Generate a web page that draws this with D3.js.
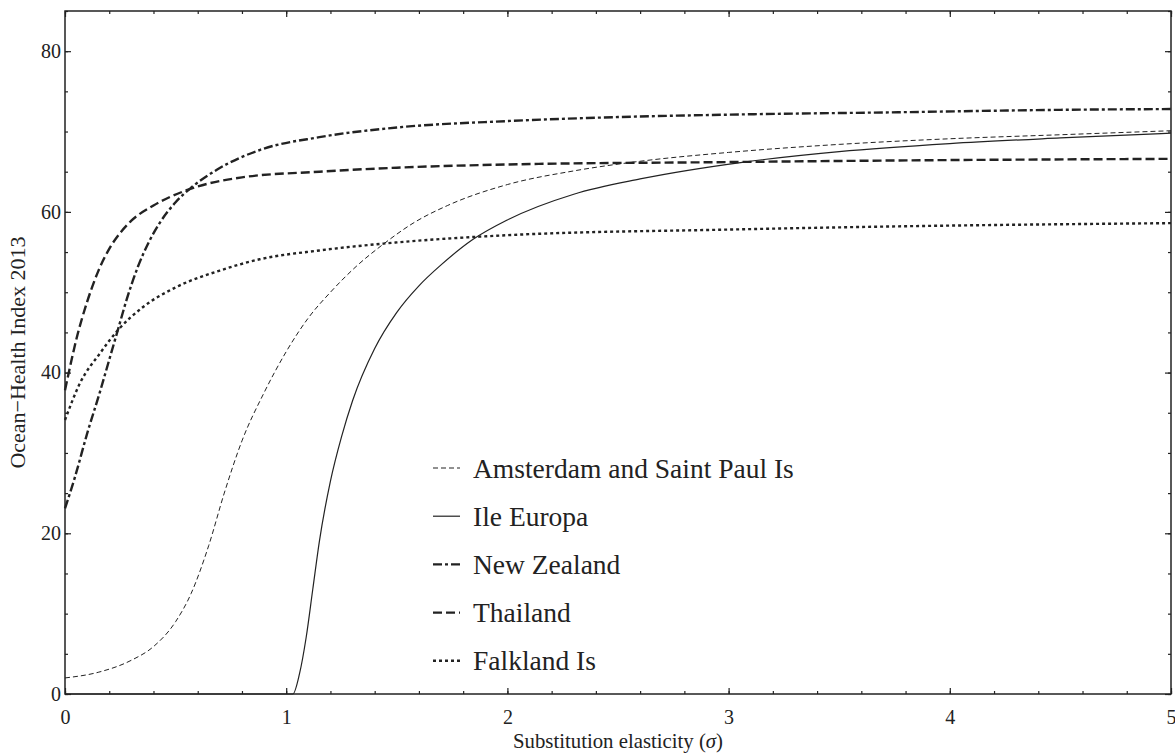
<!DOCTYPE html>
<html>
<head>
<meta charset="utf-8">
<script src="https://cdn.jsdelivr.net/npm/d3@7"></script>
<style>
  body { margin: 0; background: #fff; }
  text { font-family: "Liberation Serif", "DejaVu Serif", serif; fill: #222; }
</style>
</head>
<body>
<svg id="chart"></svg>
<script>
// values
var names = ["Amsterdam and Saint Paul Is", "Ile Europa", "New Zealand", "Thailand", "Falkland Is"];

var amsterdamX = [0, 0.15, 0.3, 0.4, 0.5, 0.57, 0.65, 0.72, 0.8, 0.9, 1.0, 1.1, 1.2, 1.32, 1.44, 1.58, 1.73, 2.0, 2.3, 2.6, 3.0, 3.5, 4.0, 4.5, 5.0];
var amsterdamY = [2.0, 2.7, 4.2, 5.9, 9.0, 12.5, 18.5, 25, 31.5, 37.5, 42.6, 46.8, 50, 53.3, 56.0, 58.7, 60.8, 63.4, 65.1, 66.3, 67.4, 68.4, 69.1, 69.6, 70.1];

var europaX = [0, 1.03, 1.06, 1.09, 1.12, 1.15, 1.2, 1.25, 1.3, 1.4, 1.5, 1.6, 1.7, 1.84, 2.0, 2.3, 2.6, 3.07, 3.5, 4.0, 4.5, 5.0];
var europaY = [0, 0, 2.5, 7, 13, 19, 26.5, 32, 36.5, 43, 47.5, 50.8, 53.4, 56.5, 59.0, 62.2, 64.1, 66.2, 67.5, 68.5, 69.2, 69.8];

var nzX = [0, 0.045, 0.1, 0.158, 0.2, 0.24, 0.28, 0.33, 0.38, 0.43, 0.5, 0.57, 0.69, 0.88, 1.15, 1.5, 2.0, 2.5, 3.0, 3.77, 4.5, 5.0];
var nzY = [23.1, 27.0, 32.4, 37.6, 41.6, 45.4, 49.2, 53.2, 56.3, 58.7, 61.2, 63.0, 65.3, 67.7, 69.3, 70.5, 71.3, 71.8, 72.1, 72.4, 72.7, 72.8];

var thaiX = [0, 0.025, 0.05, 0.1, 0.15, 0.2, 0.25, 0.3, 0.4, 0.55, 0.8, 1.15, 1.5, 2.0, 3.0, 3.77, 5.0];
var thaiY = [37.8, 41.0, 44.0, 48.8, 52.6, 55.4, 57.4, 58.9, 60.8, 62.7, 64.3, 65.0, 65.5, 65.9, 66.2, 66.4, 66.6];

var falkX = [0, 0.068, 0.158, 0.24, 0.35, 0.5, 0.7, 0.88, 1.15, 1.5, 2.0, 3.0, 3.77, 5.0];
var falkY = [34.1, 38.7, 42.4, 45.3, 48.1, 50.6, 52.7, 54.1, 55.2, 56.2, 57.1, 57.8, 58.2, 58.6];

var xTicks = [0, 1, 2, 3, 4, 5];
var yTicks = [0, 20, 40, 60, 80];

var seriesX = [amsterdamX, europaX, nzX, thaiX, falkX];
var seriesY = [amsterdamY, europaY, nzY, thaiY, falkY];

// line styles: [width, dasharray]
var styles = [
    [1, "5,3"],
    [1.2, null],
    [2.4, "9,3,3,3"],
    [2.4, "9,4"],
    [2.4, "3,3"]
];

var width = 1175, height = 754;
var margin = {top: 11, right: 4, bottom: 60, left: 65};

var svg = d3.select("#chart")
    .attr("width", width)
    .attr("height", height);

var x = d3.scaleLinear().domain([0, 5]).range([margin.left, width - margin.right]);
var y = d3.scaleLinear().domain([0, 85]).range([height - margin.bottom, margin.top]);

var minorX = d3.range(0, 5.001, 0.2);
var minorY = d3.range(0, 85.001, 5);

// ticks point inward on all four sides
svg.append("g")
    .attr("transform", `translate(0,${y(0)})`)
    .call(d3.axisBottom(x).tickValues(minorX).tickSize(-3).tickFormat(""))
    .call(g => g.select(".domain").remove());
svg.append("g")
    .attr("transform", `translate(0,${y(0)})`)
    .call(d3.axisBottom(x).tickValues(xTicks).tickSize(-6).tickPadding(16).tickFormat(d3.format("d")))
    .call(g => g.select(".domain").remove())
    .call(g => g.selectAll("text").style("font-size", "20px").style("font-family", "Liberation Serif"));

svg.append("g")
    .attr("transform", `translate(0,${margin.top})`)
    .call(d3.axisTop(x).tickValues(minorX).tickSize(-3).tickFormat(""))
    .call(g => g.select(".domain").remove());
svg.append("g")
    .attr("transform", `translate(0,${margin.top})`)
    .call(d3.axisTop(x).tickValues(xTicks).tickSize(-6).tickFormat(""))
    .call(g => g.select(".domain").remove());

svg.append("g")
    .attr("transform", `translate(${margin.left},0)`)
    .call(d3.axisLeft(y).tickValues(minorY).tickSize(-3).tickFormat(""))
    .call(g => g.select(".domain").remove());
svg.append("g")
    .attr("transform", `translate(${margin.left},0)`)
    .call(d3.axisLeft(y).tickValues(yTicks).tickSize(-6).tickPadding(4).tickFormat(d3.format("d")))
    .call(g => g.select(".domain").remove())
    .call(g => g.selectAll("text").style("font-size", "20px").style("font-family", "Liberation Serif"));

svg.append("g")
    .attr("transform", `translate(${width - margin.right},0)`)
    .call(d3.axisRight(y).tickValues(minorY).tickSize(-3).tickFormat(""))
    .call(g => g.select(".domain").remove());
svg.append("g")
    .attr("transform", `translate(${width - margin.right},0)`)
    .call(d3.axisRight(y).tickValues(yTicks).tickSize(-6).tickFormat(""))
    .call(g => g.select(".domain").remove());

svg.selectAll(".tick line").attr("stroke", "#222").attr("stroke-width", 1.2);

// frame
svg.append("rect")
    .attr("x", x(0)).attr("y", y(85))
    .attr("width", x(5) - x(0)).attr("height", y(0) - y(85))
    .attr("fill", "none").attr("stroke", "#222").attr("stroke-width", 1.5);

var line = d3.line()
    .x(d => x(d[0]))
    .y(d => y(d[1]))
    .curve(d3.curveMonotoneX);

var seriesData = names.map((n, i) => seriesX[i].map((v, j) => [v, seriesY[i][j]]));

svg.append("g")
    .selectAll("path")
    .data(seriesData)
    .join("path")
    .attr("d", line)
    .attr("fill", "none")
    .attr("stroke", "#222")
    .attr("stroke-width", (d, i) => styles[i][0])
    .attr("stroke-dasharray", (d, i) => styles[i][1]);

// legend
var legend = svg.append("g")
    .selectAll("g")
    .data(names)
    .join("g")
    .attr("transform", (d, i) => `translate(433,${468 + i * 48.2})`);

legend.append("line")
    .attr("x1", 0).attr("x2", 27)
    .attr("stroke", "#222")
    .attr("stroke-width", (d, i) => styles[i][0])
    .attr("stroke-dasharray", (d, i) => styles[i][1]);

legend.append("text")
    .attr("x", 40)
    .attr("dy", "0.35em")
    .style("font-size", "27.5px")
    .text(d => d);

// axis titles
svg.append("text")
    .attr("x", (x(0) + x(5)) / 2)
    .attr("y", 748)
    .attr("text-anchor", "middle")
    .style("font-size", "21px")
    .attr("textLength", 210)
    .attr("lengthAdjust", "spacingAndGlyphs")
    .html("Substitution elasticity (<tspan font-style='italic'>σ</tspan>)");

svg.append("text")
    .attr("transform", `translate(25,${(y(0) + y(85)) / 2}) rotate(-90)`)
    .attr("text-anchor", "middle")
    .style("font-size", "22px")
    .attr("textLength", 232)
    .attr("lengthAdjust", "spacingAndGlyphs")
    .text("Ocean\u2212Health Index 2013");
</script>
</body>
</html>
